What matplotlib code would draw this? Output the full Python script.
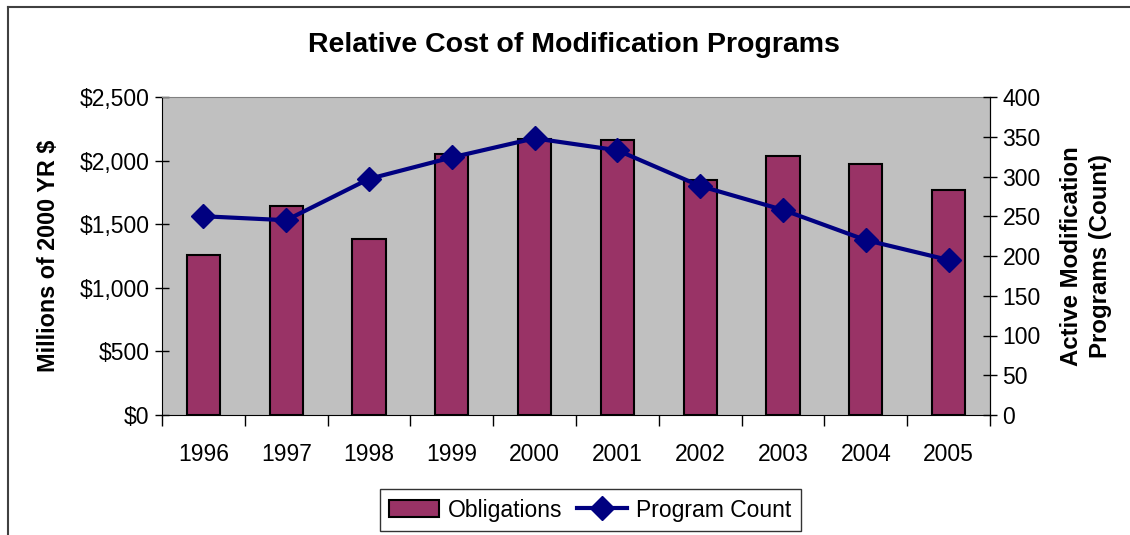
import matplotlib
matplotlib.use("Agg")
import matplotlib.pyplot as plt
from matplotlib.lines import Line2D
from matplotlib.ticker import FuncFormatter, MultipleLocator
import numpy as np

years = ["1996", "1997", "1998", "1999", "2000", "2001", "2002", "2003", "2004", "2005"]
obligations = [1260, 1640, 1380, 2050, 2170, 2160, 1850, 2040, 1970, 1770]
program_count = [250, 245, 297, 324, 348, 333, 288, 258, 220, 195]

plt.rcParams['font.family'] = ['Liberation Sans', 'DejaVu Sans']

fig = plt.figure(figsize=(11.30, 5.35), dpi=100)
fig.patch.set_facecolor('white')

ax = fig.add_axes([162/1130, 1-415/535, (990-162)/1130, (415-97)/535])
ax.set_facecolor('#C0C0C0')
x = np.arange(len(years))
bars = ax.bar(x, obligations, width=0.4, color='#993366', edgecolor='black', linewidth=1.5,
              label='Obligations', zorder=2)
ax.set_xlim(-0.5, len(years)-0.5)
ax.set_ylim(0, 2500)
ax.yaxis.set_major_locator(MultipleLocator(500))
ax.yaxis.set_major_formatter(FuncFormatter(lambda v, p: "${:,.0f}".format(v)))
ax.set_xticks(x)
ax.set_xticklabels(years)
ax.tick_params(axis='x', which='major', length=0, pad=20, labelsize=16.5)
ax.set_xticks(np.arange(-0.5, len(years), 1.0), minor=True)
ax.tick_params(axis='x', which='minor', length=8, width=1, direction='out')
ax.tick_params(axis='y', direction='inout', length=10, width=1, labelsize=16.5, pad=4)
ax.spines['top'].set_color('#808080')
for s in ['left', 'bottom', 'right']:
    ax.spines[s].set_color('black')
ax.set_ylabel('Millions of 2000 YR $', fontsize=16.8, fontweight='bold', labelpad=14)

ax2 = ax.twinx()
line, = ax2.plot(x, program_count, color='#000080', linewidth=3, marker='D', markersize=12.5,
                 label='Program Count', zorder=3)
ax2.set_ylim(0, 400)
ax2.yaxis.set_major_locator(MultipleLocator(50))
ax2.tick_params(axis='y', direction='inout', length=10, width=1, labelsize=16.5, pad=4)
ax2.spines['top'].set_visible(False)
ax2.spines['left'].set_visible(False)
ax2.spines['bottom'].set_visible(False)
ax2.set_ylabel('Active Modification\nPrograms (Count)', fontsize=17.3, fontweight='bold',
               labelpad=14, linespacing=1.3)

fig.text(574/1130, 1-45/535, 'Relative Cost of Modification Programs', ha='center', va='center',
         fontsize=20.5, fontweight='bold')

leg = fig.legend([bars, line], ['Obligations', 'Program Count'], loc='center',
                 bbox_to_anchor=(590/1130, 1-510/535), ncol=2, fontsize=16.5, frameon=True,
                 fancybox=False, edgecolor='black', handlelength=2.2, columnspacing=0.6,
                 handletextpad=0.4, borderpad=0.4)
leg.get_frame().set_linewidth(1)

# outer chart frame (partially visible)
fig.add_artist(Line2D([8/1130, 8/1130], [0, 1-7/535], color='#404040', linewidth=1.5,
                      transform=fig.transFigure))
fig.add_artist(Line2D([8/1130, 1], [1-7/535, 1-7/535], color='#404040', linewidth=1.5,
                      transform=fig.transFigure))

fig.savefig('out.png', dpi=100)
